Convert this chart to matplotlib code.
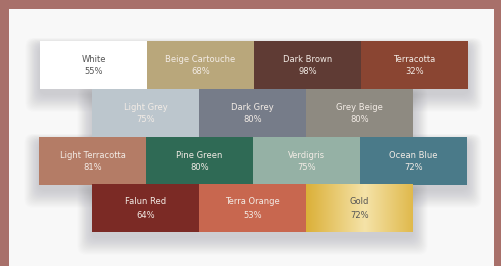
import numpy as np
import matplotlib
matplotlib.use("Agg")
import matplotlib.pyplot as plt
from matplotlib.patches import Rectangle, FancyBboxPatch

# colour swatches, row by row
names = [
    ["White", "Beige Cartouche", "Dark Brown", "Terracotta"],
    ["Light Grey", "Dark Grey", "Grey Beige"],
    ["Light Terracotta", "Pine Green", "Verdigris", "Ocean Blue"],
    ["Falun Red", "Terra Orange", "Gold"],
]
values = [
    [55, 68, 98, 32],
    [75, 80, 80],
    [81, 80, 75, 72],
    [64, 53, 72],
]
colors = [
    ["#ffffff", "#b9a77b", "#5f3b34", "#8a4532"],
    ["#bcc6cd", "#767c89", "#8e8a81"],
    ["#b47c66", "#2f6a55", "#95b1a5", "#4a7a89"],
    ["#7b2a25", "#c8674f", "#e2bf55"],
]
dark_text = {"White", "Gold"}

W, H = 501, 266
tile_w, tile_h = 107, 48
row_x0 = [40, 92, 39, 92]
row_y0 = [41, 89, 137, 184]

fig = plt.figure(figsize=(W / 100, H / 100), dpi=100)
fig.patch.set_facecolor("#a8706a")
ax = fig.add_axes([0, 0, 1, 1])
ax.set_xlim(0, W)
ax.set_ylim(H, 0)
ax.axis("off")

# white card
ax.add_patch(Rectangle((9, 9), 485, 270, facecolor="#f8f8f8", edgecolor="none", zorder=0))

# soft shadow under the tile block
for k in range(16, 0, -1):
    for r in range(4):
        n = len(names[r])
        ax.add_patch(FancyBboxPatch((row_x0[r] - k * 0.9, row_y0[r] + 5 - k * 0.5),
                                    n * tile_w + k * 1.8, tile_h + k * 1.6,
                                    boxstyle="round,pad=0,rounding_size=8",
                                    facecolor="#5a5a66", edgecolor="none",
                                    alpha=0.014, zorder=1))

for r in range(4):
    n = len(names[r])
    xs = [row_x0[r] + i * tile_w for i in range(n)]
    ax.bar(xs, [tile_h] * n, width=tile_w, bottom=row_y0[r], align="edge",
           color=colors[r], edgecolor="none", zorder=2)
    for i in range(n):
        cx = xs[i] + tile_w / 2
        cy = row_y0[r] + tile_h / 2
        if names[r][i] == "Gold":
            grad = np.linspace(0, 1, 200)
            grad = np.abs(grad - 0.55) / 0.55
            img = np.ones((1, 200, 3))
            light = np.array([0.96, 0.89, 0.66])
            deep = np.array([0.86, 0.69, 0.22])
            img[0] = light[None, :] * (1 - grad[:, None]) + deep[None, :] * grad[:, None]
            ax.imshow(img, extent=(xs[i], xs[i] + tile_w, row_y0[r] + tile_h, row_y0[r]),
                      aspect="auto", zorder=3)
        tc = "#555555" if names[r][i] in dark_text else "#f3ece6"
        ax.text(cx, cy - 6, names[r][i], ha="center", va="center",
                fontsize=6, color=tc, zorder=4)
        ax.text(cx, cy + 7, f"{values[r][i]}%", ha="center", va="center",
                fontsize=6, color=tc, zorder=4)

ax.set_xlim(0, W)
ax.set_ylim(H, 0)
fig.savefig("out.png", dpi=100, facecolor=fig.get_facecolor())
